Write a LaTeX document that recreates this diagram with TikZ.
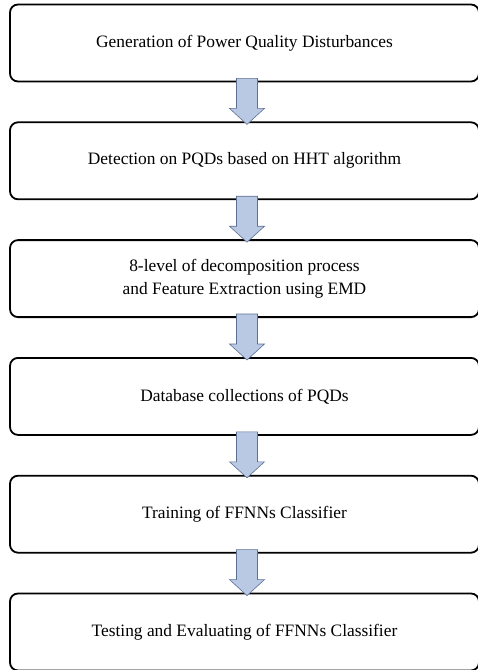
\documentclass[tikz,border=0pt]{standalone}
\usepackage{fontspec}
\setmainfont{Liberation Serif}
\usepackage{xcolor}
\usetikzlibrary{positioning}
\definecolor{arrowfill}{RGB}{185,201,227}
\definecolor{arrowline}{RGB}{92,112,148}
% block arrow from the bottom of one step to the top of the next
\newcommand{\flowarrow}[2]{%
  \draw[flow] ([xshift=-8pt,yshift=4pt]#1.south) -- ([xshift=-8pt,yshift=13pt]#2.north)
    -- ([xshift=-15pt,yshift=13pt]#2.north) -- ([xshift=2.5pt,yshift=-3pt]#2.north)
    -- ([xshift=20pt,yshift=13pt]#2.north) -- ([xshift=13pt,yshift=13pt]#2.north)
    -- ([xshift=13pt,yshift=4pt]#1.south) -- cycle;}

\begin{document}
\begin{tikzpicture}[
    flow/.style={fill=arrowfill, draw=arrowline, line width=0.6pt},
    every node/.style={ draw,
                        line width=1.8pt,
                        rounded corners=8pt,
                        align=center,
                        font=\fontsize{17.4}{23}\selectfont,
                        node distance=39pt,
                        minimum width=469pt,
                        minimum height=77pt,
                        inner sep=0pt}]

    \useasboundingbox (0,0) rectangle (478pt,-670pt);

    \node (s1) at (244.5pt,-43pt) {Generation of Power Quality Disturbances};
    \node[below=of s1] (s2) {Detection on PQDs based on HHT algorithm};
    \node[below=of s2] (s3) {8-level of decomposition process\\and Feature Extraction using EMD};
    \node[below=of s3] (s4) {Database collections of PQDs};
    \node[below=of s4] (s5) {Training of FFNNs Classifier};
    \node[below=of s5] (s6) {Testing and Evaluating of FFNNs Classifier};

    \flowarrow{s1}{s2}
    \flowarrow{s2}{s3}
    \flowarrow{s3}{s4}
    \flowarrow{s4}{s5}
    \flowarrow{s5}{s6}

\end{tikzpicture}
\end{document}
